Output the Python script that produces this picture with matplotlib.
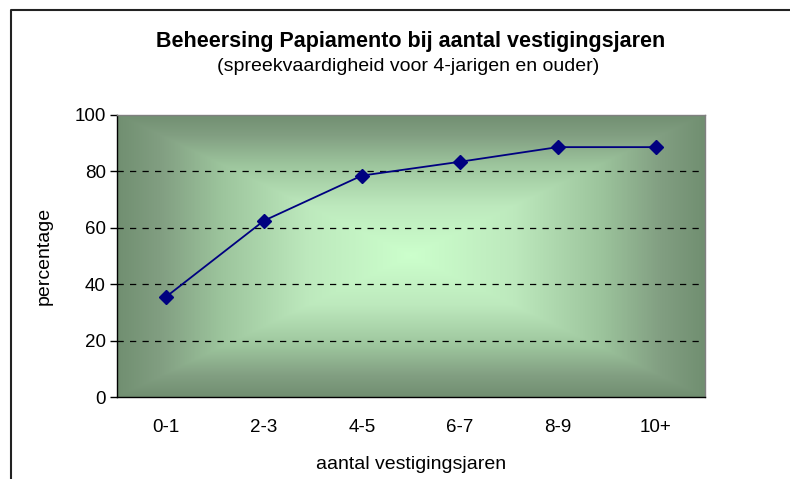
import matplotlib
matplotlib.use("Agg")
import matplotlib.pyplot as plt
import numpy as np
from matplotlib.colors import LinearSegmentedColormap
from matplotlib.lines import Line2D

plt.rcParams['font.family'] = ['Liberation Sans', 'DejaVu Sans']

categories = ["0-1", "2-3", "4-5", "6-7", "8-9", "10+"]
percentages = [35.5, 62.5, 78.5, 83.4, 88.6, 88.6]
y_ticks = [0, 20, 40, 60, 80, 100]

fig = plt.figure(figsize=(7.9, 4.79), dpi=100)
ax = fig.add_axes([0.148, 0.171, 0.744, 0.589])

x = np.arange(len(categories))
ax.set_xlim(-0.5, len(categories) - 0.5)
ax.set_ylim(0, 100)

# rectangular "from center" gradient like excel
gx = np.linspace(-1, 1, 400)
gy = np.linspace(-1, 1, 300)
GX, GY = np.meshgrid(gx, gy)
t = np.maximum(np.abs(GX), np.abs(GY))
cmap = LinearSegmentedColormap.from_list(
    "bg", [(0, "#ccffcc"), (0.35, "#bde9bd"), (0.65, "#9cc49c"),
           (0.85, "#829f82"), (1.0, "#718f71")])
ax.imshow(t, cmap=cmap, extent=[-0.5, len(categories) - 0.5, 0, 100],
          aspect='auto', zorder=0, interpolation='bilinear', vmin=0, vmax=1)

for yv in [20, 40, 60, 80]:
    ax.axhline(yv, color='black', lw=0.9, dashes=(5, 5), zorder=1)

ax.plot(x, percentages, color='#000080', lw=1.3, marker='D', markersize=7,
        markerfacecolor='#000080', markeredgecolor='#000080', zorder=3)

ax.set_xticks(x)
ax.set_xticklabels(categories, fontsize=13.5)
ax.set_yticks(y_ticks)
ax.set_yticklabels([str(v) for v in y_ticks], fontsize=13.5)
ax.tick_params(axis='x', length=0, pad=16)
ax.tick_params(axis='y', direction='out', length=5, width=1, pad=3)

ax.spines['left'].set_color('black')
ax.spines['bottom'].set_color('black')
ax.spines['top'].set_color('#808080')
ax.spines['right'].set_color('#808080')
for s in ax.spines.values():
    s.set_linewidth(1)

ax.set_xlabel("aantal vestigingsjaren", fontsize=14, labelpad=14)
ax.set_ylabel("percentage", fontsize=14, labelpad=16)

fig.text(0.520, 0.914, "Beheersing Papiamento bij aantal vestigingsjaren",
         ha='center', va='center', fontsize=15.5, fontweight='bold')
fig.text(0.517, 0.862, "(spreekvaardigheid voor 4-jarigen en ouder)",
         ha='center', va='center', fontsize=14)

# outer chart border (left and top visible)
fig.add_artist(Line2D([0.0139, 0.0139, 1.0], [0.0, 0.979, 0.979],
                      transform=fig.transFigure, color='#222222', lw=1.5))

fig.savefig("out.png", dpi=100)
